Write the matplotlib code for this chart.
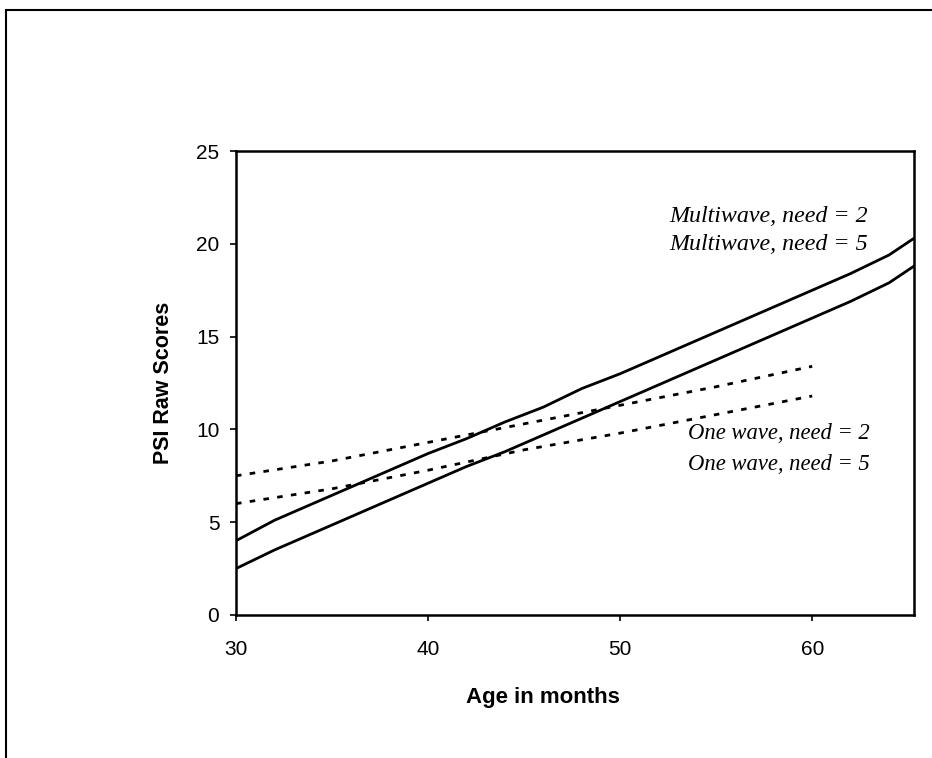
import matplotlib.pyplot as plt
from matplotlib.patches import Rectangle

plt.rcParams['font.family'] = ['Liberation Sans', 'DejaVu Sans']

# Data
age_multi = [30, 32, 34, 36, 38, 40, 42, 44, 46, 48, 50, 52, 54, 56, 58, 60, 62, 64, 65.3]
multi_need2 = [4.0, 5.1, 6.0, 6.9, 7.8, 8.7, 9.5, 10.4, 11.2, 12.2, 13.0, 13.9, 14.8, 15.7, 16.6, 17.5, 18.4, 19.4, 20.3]
multi_need5 = [2.5, 3.5, 4.4, 5.3, 6.2, 7.1, 8.0, 8.8, 9.7, 10.6, 11.5, 12.4, 13.3, 14.2, 15.1, 16.0, 16.9, 17.9, 18.8]

age_one = [30, 35, 40, 45, 50, 55, 60]
one_need2 = [7.5, 8.3, 9.3, 10.3, 11.3, 12.3, 13.4]
one_need5 = [6.0, 6.8, 7.8, 8.9, 9.8, 10.8, 11.8]

x_ticks = [30, 40, 50, 60]
y_ticks = [0, 5, 10, 15, 20, 25]

fig = plt.figure(figsize=(9.32, 7.58), dpi=100)
ax = fig.add_axes([0.2532, 0.1887, 0.7275, 0.612])

ax.plot(age_multi, multi_need2, color='black', lw=2)
ax.plot(age_multi, multi_need5, color='black', lw=2)
ax.plot(age_one, one_need2, color='black', lw=2, linestyle=(0, (2, 3)))
ax.plot(age_one, one_need5, color='black', lw=2, linestyle=(0, (2, 3)))

ax.set_xlim(30, 65.3)
ax.set_ylim(0, 25)
ax.set_xticks(x_ticks)
ax.set_yticks(y_ticks)
ax.tick_params(labelsize=15, length=4, width=1.2)
ax.tick_params(axis='x', pad=14)
ax.tick_params(axis='y', pad=8)
for s in ax.spines.values():
    s.set_linewidth(1.8)

fig.text(0.175, 1 - 383 / 758, 'PSI Raw Scores', fontsize=15.5, fontweight='bold',
         rotation=90, ha='center', va='center')
fig.text(0.583, 1 - 697 / 758, 'Age in months', fontsize=16, fontweight='bold',
         ha='center', va='center')

lab = dict(style='italic', family='Liberation Serif', ha='right', va='center')
ax.text(62.9, 21.45, 'Multiwave, need = 2', fontsize=17.3, **lab)
ax.text(62.9, 19.95, 'Multiwave, need = 5', fontsize=17.3, **lab)
ax.text(63.0, 9.8, 'One wave, need = 2', fontsize=16.3, **lab)
ax.text(63.0, 8.1, 'One wave, need = 5', fontsize=16.3, **lab)

# page frame around the figure
fig.patches.append(Rectangle((0.006, -0.1), 1.2, 1.087, transform=fig.transFigure,
                             fill=False, edgecolor='black', lw=1.5))

fig.savefig('out.png', dpi=100)
